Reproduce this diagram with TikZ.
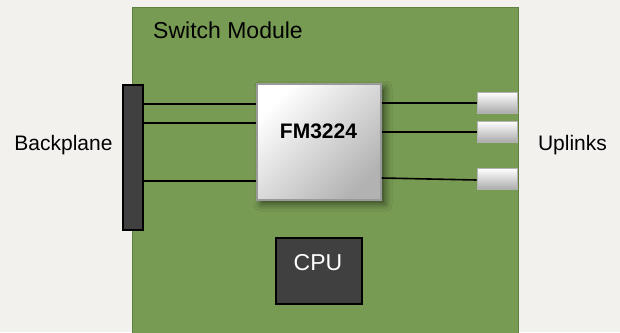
\documentclass[tikz,border=0pt]{standalone}
\usepackage{fontspec}
\setmainfont{Liberation Sans}
\usetikzlibrary{shadows.blur}
\definecolor{bg}{HTML}{F2F1EE}
\definecolor{board}{HTML}{789B53}
\definecolor{boardedge}{HTML}{5F803F}
\definecolor{darkbox}{HTML}{404040}
\begin{document}
\begin{tikzpicture}[x=1pt,y=-1pt,
  lbl/.style={font=\fontsize{21}{25}\selectfont, text=black, inner sep=0pt, anchor=base},
  wire/.style={draw=black, line width=1.6pt},
  darkblock/.style={draw=black, line width=1.2pt, fill=darkbox, inner sep=0pt},
  port/.style={draw=black!30, line width=0.6pt, top color=white, bottom color=black!33, inner sep=0pt, minimum width=40pt, minimum height=21pt},
  chipbox/.style={draw=black!40, line width=1.5pt, top color=white, bottom color=black!30, shading angle=45, inner sep=0pt,
    blur shadow={shadow xshift=4pt, shadow yshift=-4pt, shadow blur radius=7pt, shadow opacity=55}}
]
\useasboundingbox (0,0) rectangle (620,332);
\clip (0,0) rectangle (620,332);
\fill[bg] (0,0) rectangle (620,332);
% board
\node[draw=boardedge, line width=1.2pt, fill=board, minimum width=386pt, minimum height=340pt, anchor=north west, inner sep=0pt] (sm) at (132,7) {};
\node[lbl, font=\fontsize{23}{27}\selectfont, anchor=base west] (smlbl) at (153,38.3) {Switch Module};
% backplane
\node[darkblock, minimum width=20pt, minimum height=145pt] (bp) at (133,157.5) {};
\node[lbl] (bplbl) at (63.5,150) {Backplane};
% chip
\node[chipbox, minimum width=124pt, minimum height=116pt] (chip) at (319,142) {};
\node[lbl, font=\fontsize{21}{25}\selectfont\bfseries] (chiplbl) at (318.5,138) {FM3224};
% uplinks
\node[port] (u1) at (497,102.5) {};
\node[port] (u2) at (497,131.5) {};
\node[port] (u3) at (497,179) {};
\node[lbl] (uplbl) at (572.5,150.7) {Uplinks};
% CPU
\node[darkblock, minimum width=86pt, minimum height=66pt] (cpu) at (319,271) {};
\node[lbl, text=white, font=\fontsize{23}{27}\selectfont] (cpulbl) at (318,270) {CPU};
% coordinates for wires
\coordinate (w1) at (0,104);
\coordinate (w2) at (0,123);
\coordinate (w3) at (0,181);
\coordinate (w4) at (0,103);
\coordinate (w5) at (0,132);
\coordinate (w6) at (0,178);
\coordinate (w7) at (0,180);
% wires backplane - chip
\draw[wire] (bp.east |- w1) -- (chip.west |- w1);
\draw[wire] (bp.east |- w2) -- (chip.west |- w2);
\draw[wire] (bp.east |- w3) -- (chip.west |- w3);
% wires chip - uplinks
\draw[wire] (chip.east |- w4) -- (u1.west |- w4);
\draw[wire] (chip.east |- w5) -- (u2.west |- w5);
\draw[wire] (chip.east |- w6) -- (u3.west |- w7);
\end{tikzpicture}
\end{document}
